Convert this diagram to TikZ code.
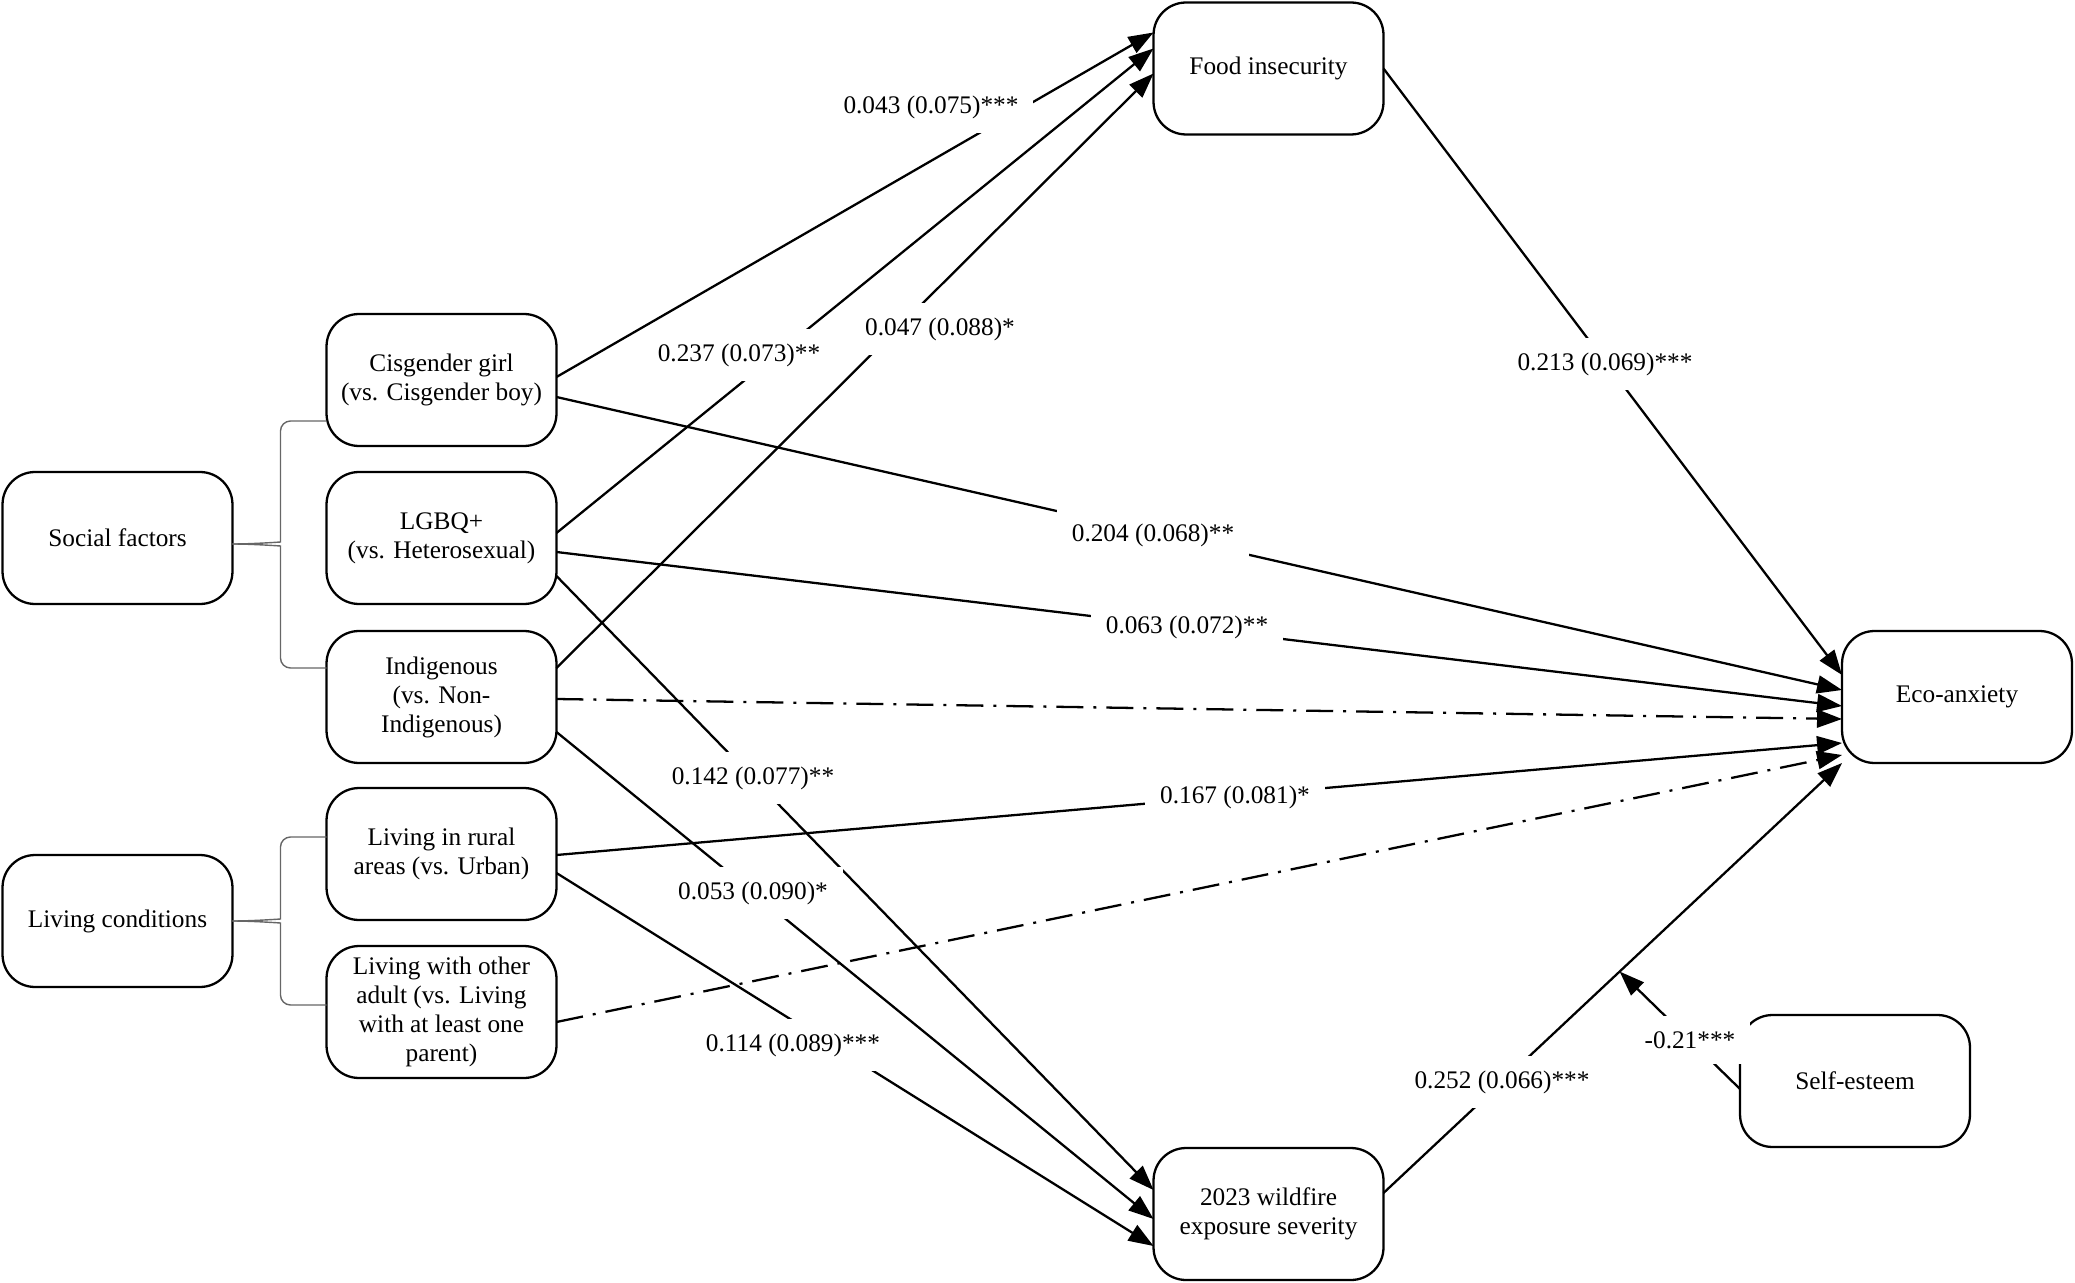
\documentclass[tikz,border=0pt]{standalone}
\usepackage{fontspec}
\setmainfont{Liberation Serif}
\usepackage{tikz}
\usetikzlibrary{arrows.meta,calc}

\tikzset{
  box/.style={draw, rectangle, rounded corners=0.65cm, line width=1.3pt,
    minimum width=4.6cm, minimum height=2.64cm, align=center,
    inner sep=2pt, outer sep=0pt, fill=white},
  link/.style={->, line width=1.3pt},
  nslink/.style={dash pattern=on 0.54cm off 0.2cm on 0.06cm off 0.2cm},
  coef/.style={fill=white, inner sep=0.3cm},
  brace/.style={draw=black!60, line width=0.8pt, rounded corners=0.2cm}
}

\begin{document}
\begin{tikzpicture}[x=0.02cm, y=-0.02cm, >={Triangle[length=0.5cm,width=0.36cm]},
    font=\fontsize{14.4}{16.5}\selectfont]
    \useasboundingbox (0,0) rectangle (2075,1283);

    % Groups
    \node[box] (social) at (117.5,538) {Social factors};
    \node[box] (living) at (117.5,921) {Living conditions};

    % Predictors
    \node[box] (girl) at (441.5,380) {Cisgender girl\\(vs. Cisgender boy)};
    \node[box] (lgbq) at (441.5,538) {LGBQ+\\(vs. Heterosexual)};
    \node[box] (indig) at (441.5,697) {Indigenous\\(vs. Non-\\Indigenous)};
    \node[box] (rural) at (441.5,854) {Living in rural\\areas (vs. Urban)};
    \node[box] (adult) at (441.5,1012) {Living with other\\adult (vs. Living\\with at least one\\parent)};

    % Mediators, outcome, moderator
    \node[box] (food) at (1268.5,68.5) {Food insecurity};
    \node[box] (fire) at (1268.5,1214) {2023 wildfire\\exposure severity};
    \node[box] (eco) at (1957,697) {Eco-anxiety};
    \node[box] (self) at (1855,1081) {Self-esteem};

    % Braces
    \coordinate (stip) at ($(social.east)+(0,6)$);
    \coordinate (sbar) at ($(stip)+(48,0)$);
    \draw[brace] ($(girl.west)+(0,41)$) -| ($(sbar)+(0,-12)$) .. controls ($(sbar)+(0,-2)$) and ($(stip)+(20,0)$) .. (stip);
    \draw[brace] ($(indig.west)+(0,-29)$) -| ($(sbar)+(0,12)$) .. controls ($(sbar)+(0,2)$) and ($(stip)+(20,0)$) .. (stip);
    \coordinate (ltip) at (living.east);
    \coordinate (lbar) at ($(ltip)+(48,0)$);
    \draw[brace] ($(rural.west)+(0,-17)$) -| ($(lbar)+(0,-12)$) .. controls ($(lbar)+(0,-2)$) and ($(ltip)+(20,0)$) .. (ltip);
    \draw[brace] ($(adult.west)+(0,-7)$) -| ($(lbar)+(0,12)$) .. controls ($(lbar)+(0,2)$) and ($(ltip)+(20,0)$) .. (ltip);

    % Paths to food insecurity
    \draw[link] ($(girl.east)+(0,-3)$) -- ($(food.west)+(0,-36)$);
    \draw[link] ($(lgbq.east)+(0,-5)$) -- ($(food.west)+(0,-20)$);
    \draw[link] ($(indig.east)+(0,-29)$) -- ($(food.west)+(0,5)$);

    % Paths to wildfire exposure
    \draw[link] ($(lgbq.east)+(0,38)$) -- ($(fire.west)+(0,-24)$);
    \draw[link] ($(indig.east)+(0,35)$) -- ($(fire.west)+(0,5)$);
    \draw[link] ($(rural.east)+(0,19)$) -- ($(fire.west)+(0,32)$);

    % Paths to eco-anxiety
    \draw[link] ($(girl.east)+(0,17)$) -- ($(eco.west)+(0,-7)$);
    \draw[link] ($(lgbq.east)+(0,14)$) -- ($(eco.west)+(0,9)$);
    \draw[link, nslink] ($(indig.east)+(0,2)$) -- ($(eco.west)+(0,22)$);
    \draw[link] ($(rural.east)+(0,1)$) -- ($(eco.west)+(0,46)$);
    \draw[link, nslink] ($(adult.east)+(0,10)$) -- ($(eco.west)+(0,58)$);
    \draw[link] (food.east) -- ($(eco.west)+(0,-22)$);
    \draw[link] ($(fire.east)+(0,-21)$) -- (eco.south west) coordinate[pos=0.515] (mod);

    % Moderation
    \draw[link] ($(self.west)+(0,8)$) -- (mod);

    % Coefficients
    \node[coef] (b1) at (931,107) {0.043 (0.075)***};
    \node[coef] (b2) at (739,355) {0.237 (0.073)**};
    \node[coef] (b3) at (940,329) {0.047 (0.088)*};
    \node[coef] (b4) at (1605,364) {0.213 (0.069)***};
    \node[coef] (b5) at (1153,535) {0.204 (0.068)**};
    \node[coef] (b6) at (1187,627) {0.063 (0.072)**};
    \node[coef] (b7) at (753,778) {0.142 (0.077)**};
    \node[coef] (b8) at (1235,797) {0.167 (0.081)*};
    \node[coef] (b9) at (753,893) {0.053 (0.090)*};
    \node[coef] (b10) at (793,1045) {0.114 (0.089)***};
    \node[coef] (b11) at (1502,1082) {0.252 (0.066)***};
    \node[coef] (b12) at (1690,1040) {-0.21***};

\end{tikzpicture}
\end{document}
